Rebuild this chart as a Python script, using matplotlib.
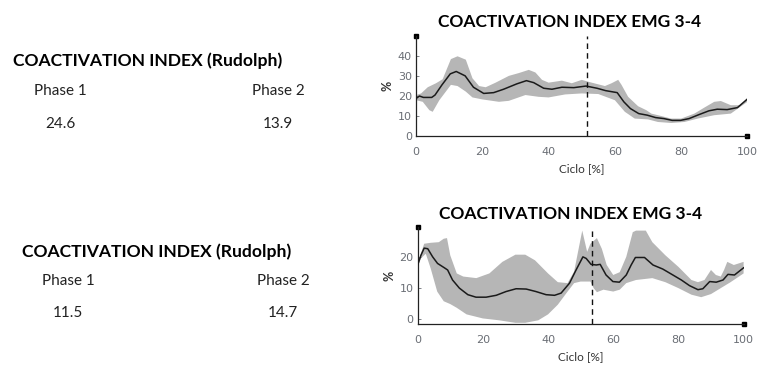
import matplotlib.pyplot as plt
import numpy as np

# ---- summary values (Rudolph index)
phase_labels = ["Phase 1", "Phase 2"]
rudolph_top = ["24.6", "13.9"]
rudolph_bottom = ["11.5", "14.7"]

# ---- top chart: mean curve + band
top_x = [0, 1, 2.2, 4.7, 5.7, 7.8, 10.3, 12.1, 14.8, 17.3, 20.4, 23.4, 26.4, 30.4, 33.3, 35.5,
         38.5, 41, 44, 47.6, 51.3, 54.6, 57.2, 60.7, 62.7, 64.7, 67.2, 69.8, 72.3, 74.8, 77.3,
         79.8, 82.4, 85.4, 88.4, 90.9, 93.9, 97, 100]
top_mean = [18.9, 20.1, 19.4, 19.4, 20.6, 25.7, 31.2, 32.4, 30.2, 24.5, 21.4, 21.8, 23.5, 26.2,
            27.8, 26.8, 24.0, 23.5, 24.5, 24.3, 25.1, 24.0, 22.8, 21.8, 17.2, 13.8, 11.3, 10.5,
            9.3, 8.8, 7.9, 7.9, 8.8, 10.8, 12.7, 13.5, 13.3, 14.3, 18.6]
top_up_x = [0, 1.5, 3.5, 6, 8, 10.5, 12.5, 15, 17, 19, 21, 24, 28, 31, 34, 36, 38, 40, 44, 47,
            50, 53, 57, 59, 61, 62, 64, 67, 69.5, 71, 73, 77, 80, 84, 87, 90, 92, 95, 98, 100]
top_up = [20.6, 21.4, 24.5, 26.5, 28.5, 38.6, 40, 38.3, 29, 25.1, 24.5, 26.8, 30.2, 31.6, 33.2,
          31.9, 28.2, 26.8, 27.8, 26.5, 28.2, 26.8, 25.1, 26.5, 28.2, 25.7, 19.7, 15, 13, 11.3,
          10.5, 8.8, 8.8, 11.3, 14.3, 17.2, 17.6, 15.5, 15.5, 18.9]
top_lo_x = [0, 2, 4, 5, 7, 10.5, 12.5, 15, 17, 20, 25, 28, 33, 37, 40, 45, 50, 55, 60, 63, 66,
            70, 73, 77, 81, 85, 90, 95, 100]
top_lo = [18, 17.2, 13, 12.2, 18, 25.7, 25.1, 22.3, 19.4, 18.4, 17.2, 17.7, 20.6, 19.7, 19.4,
          20.9, 21.4, 21.1, 18, 12.2, 8.8, 8.4, 7.1, 6.6, 7.1, 8.8, 10.5, 11.3, 17.2]
top_event = 51.5

# ---- bottom chart
bot_x = [0, 1, 2, 3.1, 4.6, 6.1, 8.2, 9.2, 10.7, 12.8, 15.4, 17.9, 21, 24.1, 27.1, 30.2, 33.3,
         36.3, 39.4, 42, 44, 46.6, 48.6, 50.7, 51.7, 53.2, 54.8, 56, 57.8, 59.9, 61.9, 64, 65.5,
         66.8, 69.6, 72.2, 75.2, 78.3, 80.9, 83.4, 86, 87.5, 89.6, 91.6, 93.7, 95.2, 97.2, 100]
bot_mean = [17.4, 20.5, 22.8, 22.6, 20, 17.9, 16.5, 15.8, 12.6, 10, 7.9, 7.1, 7.1, 7.7, 8.9,
            9.8, 9.7, 8.9, 7.9, 7.7, 8.4, 11.6, 15.8, 20, 19.5, 17.6, 17.4, 17.6, 14.2, 12.1,
            11.9, 14.2, 17.4, 19.8, 19.8, 17.4, 16.1, 14.2, 12.6, 10.8, 9.5, 9.8, 12.1, 11.9,
            12.6, 14.4, 14.2, 16.5]
bot_up_x = [0, 2, 4, 6.5, 8, 9, 10, 12, 14, 18, 22, 26, 30, 33, 36, 40, 43, 46, 48, 50, 50.5,
            52, 53, 55, 56.5, 58, 60, 62, 64, 66, 67, 70, 72, 76, 80, 84, 86, 88, 90, 91.5, 93,
            94, 95, 97, 100]
bot_up = [17.9, 24.2, 24.5, 24.7, 25.8, 26, 20.5, 14.7, 13.7, 13.2, 14.7, 18.4, 20.7, 20.7,
          18.9, 14.7, 11.9, 11.6, 15.3, 25.8, 28.4, 21.6, 24.2, 26, 22.6, 17.4, 14.2, 15.1, 20,
          27.9, 28.4, 28.4, 24.7, 20.5, 16.8, 12.6, 11.9, 12.6, 15.8, 14.2, 13.7, 15.8, 18.4,
          17.4, 18.4]
bot_lo_x = [0, 1, 2.5, 4, 6, 8, 10, 12, 15, 20, 25, 30, 33, 37, 40, 43, 46, 48, 50, 53, 54, 55,
            57, 60, 62, 64, 67, 72, 76, 80, 84, 87, 90, 93, 96, 100]
bot_lo = [16.8, 19.5, 21, 16.3, 8.9, 5.8, 4.9, 3.7, 1.6, 0.3, -0.3, -1.1, -1.1, -0.3, 1.6, 4.7,
          8.9, 11.6, 12.1, 12.1, 10, 8.7, 9.5, 8.9, 9.5, 11.6, 12.6, 13.2, 11.9, 10, 7.9, 7.1,
          8.1, 10, 11.9, 14.7]
bot_event = 53.4

title_txt = "COACTIVATION INDEX EMG 3-4"
left_title = "COACTIVATION INDEX (Rudolph)"

plt.rcParams['font.family'] = ['Lato', 'DejaVu Sans']
tick_col = '#6a6e75'

fig = plt.figure(figsize=(7.58, 3.67), dpi=100)


def draw_panel(rect, x, mean, ux, up, lx, lo, event, ylim, yticks):
    ax = fig.add_axes(rect)
    poly_x = np.concatenate([ux, lx[::-1]])
    poly_y = np.concatenate([up, lo[::-1]])
    ax.fill(poly_x, poly_y, color='#b6b6b6', lw=0, zorder=1)
    ax.plot(x, mean, color='#1a1a1a', lw=1.1, zorder=3)
    ax.axvline(event, color='#111111', lw=1.0, ls=(0, (4, 3)), zorder=4)
    ax.set_xlim(0, 100)
    ax.set_ylim(*ylim)
    ax.set_xticks([0, 20, 40, 60, 80, 100])
    ax.set_yticks(yticks)
    for s in ['top', 'right']:
        ax.spines[s].set_visible(False)
    for s in ['left', 'bottom']:
        ax.spines[s].set_linewidth(0.9)
        ax.spines[s].set_color('#222222')
    ax.tick_params(axis='both', labelsize=8, colors=tick_col, length=2, width=0.6,
                   direction='in', pad=3)
    for lab in ax.get_xticklabels() + ax.get_yticklabels():
        lab.set_family('DejaVu Sans')
    ax.tick_params(axis='x', length=0, pad=8)
    # small square end caps on axes
    ax.plot(0, 1, 's', ms=2.5, color='black', transform=ax.transAxes, clip_on=False)
    ax.plot(1, 0, 's', ms=2.5, color='black', transform=ax.transAxes, clip_on=False)
    ax.set_xlabel("Ciclo [%]", fontsize=8.5, color='#333333', labelpad=4)
    ax.set_ylabel("%", fontsize=9, color='#333333', fontweight='bold', labelpad=3)
    return ax


ax1 = draw_panel([0.549, 0.629, 0.437, 0.272], top_x, top_mean,
                 np.array(top_up_x), np.array(top_up), np.array(top_lo_x), np.array(top_lo),
                 top_event, (0, 50), [0, 10, 20, 30, 40])
ax2 = draw_panel([0.551, 0.117, 0.430, 0.264], bot_x, bot_mean,
                 np.array(bot_up_x), np.array(bot_up), np.array(bot_lo_x), np.array(bot_lo),
                 bot_event, (-1.5, 29.5), [0, 10, 20])

# panel titles
fig.text(570 / 758, 1 - 22 / 367, title_txt, ha='center', va='center',
         fontsize=12.5, fontweight='bold', color='black')
fig.text(571 / 758, 1 - 214 / 367, title_txt, ha='center', va='center',
         fontsize=12.5, fontweight='bold', color='black')


# left-side text blocks
def text_block(tx, ty, px, py, vy, values):
    fig.text(tx / 758, 1 - ty / 367, left_title, ha='left', va='center',
             fontsize=12.6, fontweight='bold', color='black')
    for cx, lab, val in zip(px, phase_labels, values):
        fig.text(cx / 758, 1 - py / 367, lab, ha='center', va='center',
                 fontsize=11, color='#222222')
        fig.text(cx / 758, 1 - vy / 367, val, ha='center', va='center',
                 fontsize=11, color='#222222')


text_block(13, 61, [60, 278], 91, 124, rudolph_top)
text_block(22, 252, [68, 283], 281, 313, rudolph_bottom)

fig.savefig("out.png", dpi=100)
